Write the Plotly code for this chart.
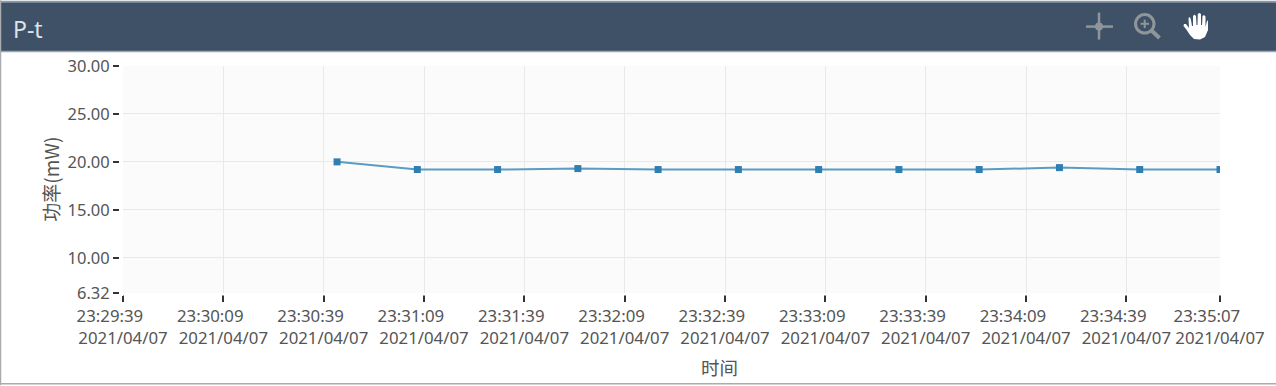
import plotly.graph_objects as go

W, H = 1276, 386
L, R, T, B = 123, 1220, 66, 293.5

DAY = "2021-04-07 "
times = ["23:30:43", "23:31:07", "23:31:31", "23:31:55", "23:32:19", "23:32:43",
         "23:33:07", "23:33:31", "23:33:55", "23:34:19", "23:34:43", "23:35:07"]
power = [20.0, 19.2, 19.2, 19.3, 19.2, 19.2, 19.2, 19.2, 19.2, 19.4, 19.2, 19.2]
x_ticks = ["23:29:39", "23:30:09", "23:30:39", "23:31:09", "23:31:39", "23:32:09",
           "23:32:39", "23:33:09", "23:33:39", "23:34:09", "23:34:39", "23:35:07"]
date_label = "2021/04/07"
y_ticks = [6.32, 10, 15, 20, 25, 30]
y_labels = ["6.32", "10.00", "15.00", "20.00", "25.00", "30.00"]

FONT = "Noto Sans"
CJK = "Noto Sans CJK SC"
TEXT = "#555555"
HEADER = "#3f5166"
BORDER = "#a9abad"


def px(x):
    return (x - L) / (R - L)


def py(y):
    return (B - y) / (B - T)


def rect(x0, y0, x1, y1, fill, layer="above"):
    return dict(type="rect", xref="paper", yref="paper", x0=px(x0), x1=px(x1), y0=py(y0), y1=py(y1),
                fillcolor=fill, line_width=0, layer=layer)


def seg(x0, y0, x1, y1, color, width):
    return dict(type="line", xref="paper", yref="paper", x0=px(x0), x1=px(x1), y0=py(y0), y1=py(y1),
                line=dict(color=color, width=width), layer="above")


def path(points, fill):
    d = "M " + " L ".join(f"{px(a)},{py(b)}" for a, b in points) + " Z"
    return dict(type="path", xref="paper", yref="paper", path=d, fillcolor=fill, line_width=0, layer="above")


hand = [(1190, 17), (1191, 20), (1192, 26), (1193, 26), (1193, 16), (1194.5, 14.5), (1196, 16), (1196.5, 25),
        (1197.5, 25), (1197.8, 14), (1199.5, 12.8), (1201, 14), (1201, 25), (1202, 25), (1202.5, 16),
        (1204, 15), (1205.5, 16.5), (1205.5, 27), (1207, 21), (1208, 20.5), (1208, 30), (1205, 37), (1200, 39.5),
        (1194, 39), (1190, 35), (1186, 29), (1183.5, 26), (1184, 24), (1186, 24), (1189, 28), (1188.5, 18)]

shapes = [
    rect(L - 4, T - 3, L, B + 3, "white"),
    rect(L - 4, B, R + 4, B + 2.5, "white"),
    rect(0, 1.5, W, 51, HEADER),
    seg(0, 1.5, W, 1.5, "#8d98a6", 2),
    seg(0, 51.5, W, 51.5, "#9aa6b3", 1.5),
    seg(0.5, 0, 0.5, H, BORDER, 1.5),
    seg(0, 384.5, W, 384.5, BORDER, 1.5),
    seg(1086, 26.5, 1113, 26.5, "#8f9598", 2.5),
    seg(1099, 12.5, 1099, 39.5, "#8f9598", 2.5),
    dict(type="circle", xref="paper", yref="paper", x0=px(1095), x1=px(1103), y0=py(22.5), y1=py(30.5),
         fillcolor="#8f9598", line_width=0, layer="above"),
    dict(type="circle", xref="paper", yref="paper", x0=px(1135.5), x1=px(1154), y0=py(14.5), y1=py(33),
         fillcolor="rgba(0,0,0,0)", line=dict(color="#8f9598", width=3), layer="above"),
    seg(1151.5, 30.5, 1159.5, 38, "#8f9598", 4),
    seg(1140.5, 23.7, 1149, 23.7, "#8f9598", 2),
    seg(1144.7, 19.5, 1144.7, 28, "#8f9598", 2),
    path(hand, "white"),
]

annotations = [
    dict(text="P-t", xref="paper", yref="paper", x=px(11), y=py(28.5), xanchor="left", yanchor="middle",
         showarrow=False, font=dict(family=FONT, size=23, color="#dde3e8")),
    dict(text="时间", xref="paper", yref="paper", x=px(719), y=py(368), xanchor="center", yanchor="middle",
         showarrow=False, font=dict(family=CJK, size=18.5, color=TEXT)),
    dict(text="功率(mW)", xref="paper", yref="paper", x=px(51), y=py(180), xanchor="center", yanchor="middle",
         textangle=-90, showarrow=False, font=dict(family=CJK, size=19, color=TEXT)),
]

fig = go.Figure(go.Scatter(
    x=[DAY + t for t in times],
    y=power,
    mode="lines+markers",
    line=dict(color="#5a9cc2", width=2),
    marker=dict(symbol="square", size=7, color="#2f7fb2"),
    cliponaxis=True,
    hoverinfo="skip",
))

fig.update_layout(
    width=W, height=H,
    margin=dict(l=L, r=W - R, t=T, b=H - B, pad=0, autoexpand=False),
    paper_bgcolor="white",
    plot_bgcolor="#fbfbfb",
    showlegend=False,
    shapes=shapes,
    annotations=annotations,
    font=dict(family=FONT, size=15, color=TEXT),
    xaxis=dict(
        type="date",
        automargin=False,
        range=[DAY + x_ticks[0], DAY + x_ticks[-1]],
        tickmode="array",
        tickvals=[DAY + t for t in x_ticks],
        ticktext=[f"{t}\u00a0\u00a0\u00a0\u00a0\u00a0\u00a0<br>{date_label}" for t in x_ticks],
        ticks="outside", ticklen=8, tickwidth=1.5, tickcolor="#333333",
        showgrid=True, gridcolor="#e9e9e9", gridwidth=1.4,
        showline=False, zeroline=False,
        tickangle=0,
        tickfont=dict(family=FONT, size=16.8, color=TEXT),
    ),
    yaxis=dict(
        automargin=False,
        range=[6.32, 30],
        tickmode="array",
        tickvals=y_ticks,
        ticktext=y_labels,
        ticks="outside", ticklen=9, tickwidth=1.5, tickcolor="#333333",
        showgrid=True, gridcolor="#e9e9e9", gridwidth=1.4,
        showline=False, zeroline=False,
        tickfont=dict(family=FONT, size=16.5, color=TEXT),
    ),
)

fig.write_html("out.html", config={"displayModeBar": False},
               post_script="document.body.style.margin='0';document.body.style.overflow='hidden';")
